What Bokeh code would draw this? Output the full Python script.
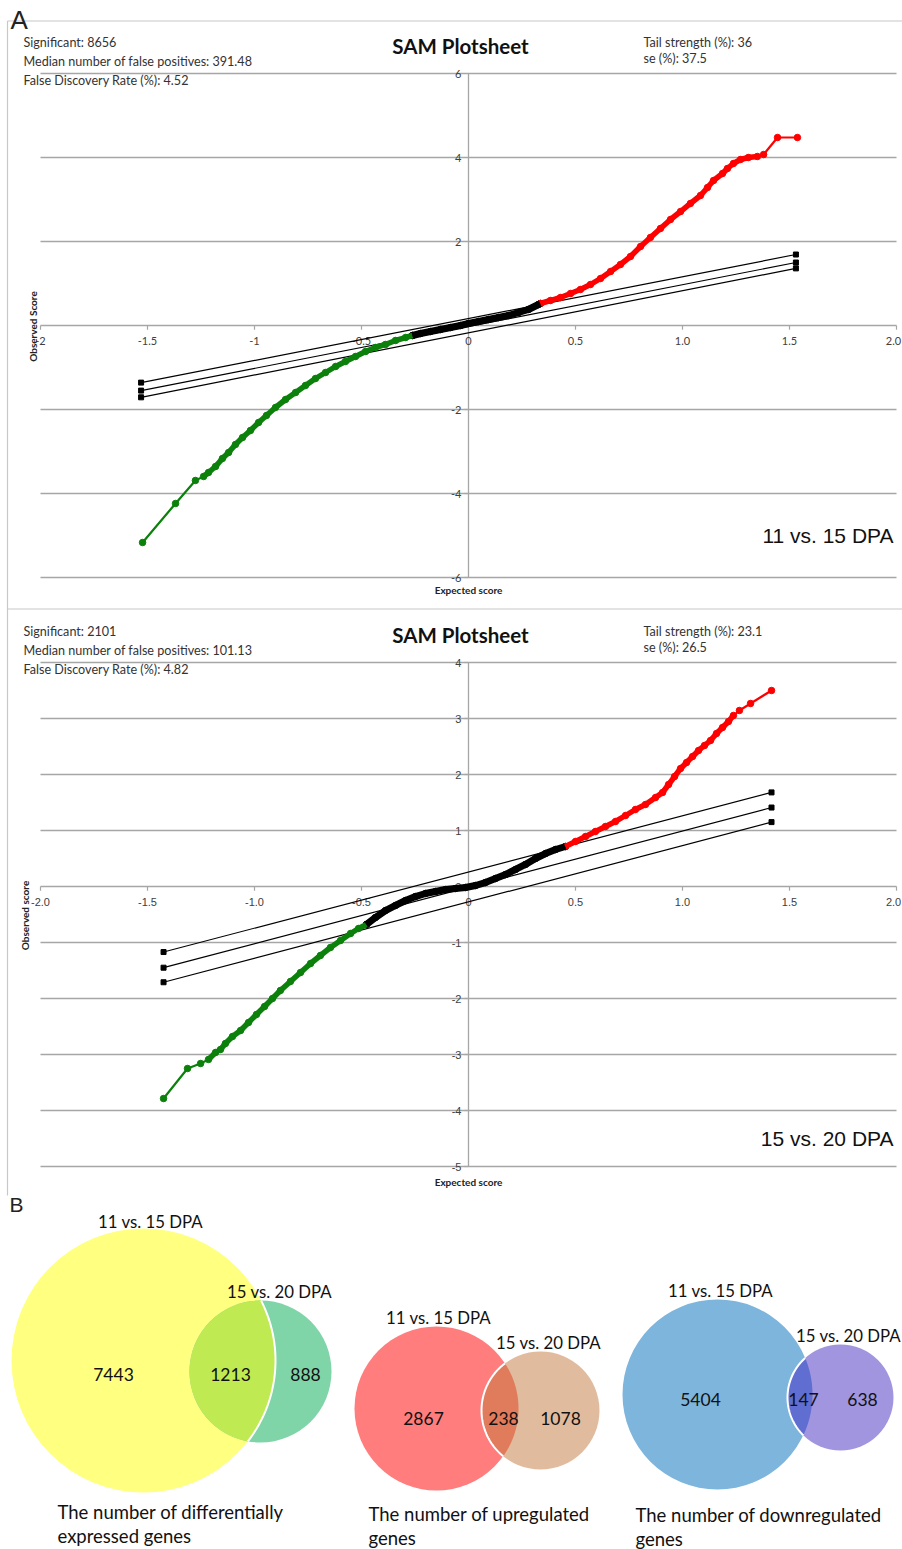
import math
import numpy as np
from bokeh.plotting import figure
from bokeh.models import Range1d
from bokeh.embed import file_html
from bokeh.resources import INLINE
from bokeh.core.properties import value

# ---------------- DATA ----------------
# Panel A, top: 11 vs. 15 DPA  (expected score, observed score)
p1_green_x = [-1.523, -1.369, -1.276, -1.238, -1.215, -1.182, -1.150, -1.121, -1.089, -1.056,
              -1.019, -0.981, -0.944, -0.902, -0.855, -0.808, -0.762, -0.715, -0.668, -0.621,
              -0.575, -0.528, -0.481, -0.435, -0.388, -0.341, -0.294, -0.262]
p1_green_y = [-5.167, -4.238, -3.690, -3.595, -3.500, -3.357, -3.167, -3.024, -2.833, -2.667,
              -2.500, -2.310, -2.143, -1.952, -1.762, -1.595, -1.429, -1.262, -1.119, -0.976,
              -0.857, -0.738, -0.619, -0.524, -0.452, -0.357, -0.286, -0.238]
p1_black_x = [-0.262, -0.224, -0.178, -0.131, -0.084, -0.037, 0.0, 0.047, 0.093, 0.140,
              0.187, 0.234, 0.280, 0.327, 0.336]
p1_black_y = [-0.238, -0.190, -0.143, -0.095, -0.048, 0.0, 0.048, 0.095, 0.143, 0.190,
              0.238, 0.310, 0.381, 0.500, 0.524]
p1_red_x = [0.336, 0.383, 0.430, 0.477, 0.523, 0.570, 0.617, 0.664, 0.710, 0.757,
            0.804, 0.850, 0.897, 0.944, 0.991, 1.037, 1.084, 1.117, 1.145, 1.187,
            1.210, 1.238, 1.271, 1.308, 1.350, 1.379, 1.444, 1.537]
p1_red_y = [0.524, 0.595, 0.667, 0.762, 0.857, 0.976, 1.119, 1.286, 1.452, 1.643,
            1.881, 2.095, 2.310, 2.524, 2.714, 2.905, 3.095, 3.286, 3.452, 3.619,
            3.738, 3.857, 3.952, 4.000, 4.024, 4.071, 4.476, 4.476]
p1_thr_x = [-1.53, 1.53]
p1_thr_upper = [-1.36, 1.69]
p1_thr_mid = [-1.55, 1.50]
p1_thr_lower = [-1.71, 1.36]

# Panel A, bottom: 15 vs. 20 DPA
p2_green_x = [-1.425, -1.313, -1.252, -1.215, -1.182, -1.159, -1.136, -1.103, -1.065, -1.028,
              -0.991, -0.953, -0.916, -0.879, -0.832, -0.785, -0.738, -0.692, -0.645, -0.598,
              -0.551, -0.514, -0.477]
p2_green_y = [-3.786, -3.250, -3.161, -3.089, -2.964, -2.911, -2.804, -2.679, -2.571, -2.429,
              -2.286, -2.143, -2.000, -1.857, -1.696, -1.536, -1.375, -1.232, -1.089, -0.964,
              -0.839, -0.750, -0.679]
p2_black_x = [-0.477, -0.435, -0.388, -0.341, -0.294, -0.248, -0.201, -0.154, -0.107, -0.061,
              -0.014, 0.033, 0.079, 0.126, 0.173, 0.220, 0.266, 0.313, 0.360, 0.407, 0.453]
p2_black_y = [-0.679, -0.554, -0.429, -0.339, -0.250, -0.179, -0.125, -0.089, -0.054, -0.036,
              -0.018, 0.018, 0.071, 0.143, 0.214, 0.304, 0.393, 0.500, 0.589, 0.661, 0.714]
p2_red_x = [0.453, 0.500, 0.547, 0.593, 0.640, 0.687, 0.734, 0.780, 0.827, 0.874,
            0.907, 0.935, 0.963, 0.991, 1.019, 1.047, 1.075, 1.103, 1.131, 1.159,
            1.187, 1.215, 1.238, 1.266, 1.318, 1.416]
p2_red_y = [0.714, 0.804, 0.893, 0.982, 1.071, 1.161, 1.268, 1.375, 1.464, 1.589,
            1.679, 1.821, 1.964, 2.107, 2.214, 2.321, 2.429, 2.518, 2.607, 2.732,
            2.839, 2.946, 3.054, 3.143, 3.268, 3.500]
p2_thr_x = [-1.425, 1.416]
p2_thr_upper = [-1.17, 1.68]
p2_thr_mid = [-1.45, 1.41]
p2_thr_lower = [-1.71, 1.15]

x_ticks = [-2.0, -1.5, -1.0, -0.5, 0.0, 0.5, 1.0, 1.5, 2.0]
p1_x_labels = ["-2", "-1.5", "-1", "-0.5", "0", "0.5", "1.0", "1.5", "2.0"]
p2_x_labels = ["-2.0", "-1.5", "-1.0", "-0.5", "0", "0.5", "1.0", "1.5", "2.0"]
p1_y_ticks = [6, 4, 2, -2, -4, -6]
p1_y_labels = ["6", "4", "2", "-2", "-4", "-6"]
p2_y_ticks = [4, 3, 2, 1, 0, -1, -2, -3, -4, -5]
p2_y_labels = ["4", "3", "2", "1", "0", "-1", "-2", "-3", "-4", "-5"]

p1_stats_left = ["Significant: 8656", "Median number of false positives: 391.48", "False Discovery Rate (%): 4.52"]
p1_stats_right = ["Tail strength (%): 36", "se (%): 37.5"]
p2_stats_left = ["Significant: 2101", "Median number of false positives: 101.13", "False Discovery Rate (%): 4.82"]
p2_stats_right = ["Tail strength (%): 23.1", "se (%): 26.5"]

# Panel B: Venn counts [only first, overlap, only second]
venn_counts = [[7443, 1213, 888], [2867, 238, 1078], [5404, 147, 638]]
venn_set_labels = ["11 vs. 15 DPA", "15 vs. 20 DPA"]
venn_captions = [["The number of differentially", "expressed genes"],
                 ["The number of upregulated", "genes"],
                 ["The number of downregulated", "genes"]]

# ---------------- LAYOUT (pixels) ----------------
W, H = 902, 1549
EX0, EXS = 468.0, 214.0          # expected score 0 position / px per unit
P1Y0, P1S = 325.0, 42.0
P2Y0, P2S = 886.0, 56.0

FONT = value("Lato")
NARROW = value("'Liberation Sans Narrow', 'Liberation Sans', sans-serif")
GRID = "#a6a6a6"

p = figure(width=W, height=H, x_range=Range1d(0, W), y_range=Range1d(H, 0),
           output_backend="svg", toolbar_location=None, min_border=0,
           x_axis_type=None, y_axis_type=None)
p.grid.visible = False
p.outline_line_color = None
p.background_fill_color = "white"
p.border_fill_color = "white"
p.extra_x_ranges = {"ex": Range1d(start=(0 - EX0) / EXS, end=(W - EX0) / EXS)}
p.extra_y_ranges = {"o1": Range1d(start=(P1Y0 - H) / P1S, end=P1Y0 / P1S),
                    "o2": Range1d(start=(P2Y0 - H) / P2S, end=P2Y0 / P2S)}

# panel frames
p.segment(x0=[7, 7, 7, 7], y0=[20.5, 608.5, 20.5, 608.5], x1=[902, 902, 7, 7], y1=[20.5, 608.5, 608.5, 1195],
          line_color="#c8c8c8", line_width=1.2)

p.text(x=[10], y=[4], text=["A"], text_font=value("Liberation Sans"), text_font_size="26px",
       text_baseline="top", text_align="left", text_color="#222222")
p.text(x=[9], y=[1192], text=["B"], text_font=value("Liberation Sans"), text_font_size="21px",
       text_baseline="top", text_align="left", text_color="#222222")


def sam_plot(yr, grid_vals, ymin, ymax, xlabels, ylabels, yticks, tick_len, lab_off, lab_font,
             green, black, red, thr_x, thr, stats_l, stats_r, top, ylab, ylab_x, xlab_y, corner, corner_y):
    kw = dict(x_range_name="ex", y_range_name=yr)
    n = len(grid_vals)
    p.segment(x0=[-2.0] * n, x1=[2.0] * n, y0=grid_vals, y1=grid_vals, line_color=GRID, line_width=1.3, **kw)
    # axes
    p.segment(x0=[-2.0], x1=[2.0], y0=[0], y1=[0], line_color=GRID, line_width=1.3, **kw)
    p.segment(x0=[0], x1=[0], y0=[ymin], y1=[ymax], line_color=GRID, line_width=1.3, **kw)
    p.segment(x0=x_ticks, x1=x_ticks, y0=[0] * len(x_ticks), y1=[-tick_len] * len(x_ticks),
              line_color=GRID, line_width=1.2, **kw)
    p.segment(x0=[-0.02] * len(yticks), x1=[0] * len(yticks), y0=yticks, y1=yticks,
              line_color=GRID, line_width=1.2, **kw)
    # x tick labels; the last one is right-aligned at the panel edge so it stays inside
    p.text(x=x_ticks[:-1], y=[-lab_off] * (len(x_ticks) - 1), text=xlabels[:-1], text_font=lab_font,
           text_font_size="11px", text_align="center", text_baseline="middle", text_color="#404040", **kw)
    p.text(x=[x_ticks[-1] + 0.022], y=[-lab_off], text=[xlabels[-1]], text_font=lab_font,
           text_font_size="11px", text_align="right", text_baseline="middle", text_color="#404040", **kw)
    p.text(x=[-0.033] * len(yticks), y=yticks, text=ylabels, text_font=lab_font, text_font_size="11px",
           text_align="right", text_baseline="middle", text_color="#404040", **kw)
    # threshold lines
    for ty in thr:
        p.line(thr_x, ty, line_color="black", line_width=1.2, **kw)
        p.scatter(thr_x, ty, marker="square", size=5, color="black", **kw)
    # score curve
    for (xs, ys, col) in (green, black, red):
        p.line(xs, ys, line_color=col, line_width=2.2, **kw)
        p.scatter(xs, ys, marker="circle", size=6.5, color=col, **kw)
    gx, gy, gc = green
    p.line(gx[3:], gy[3:], line_color=gc, line_width=5.5, **kw)
    bx, by, bc = black
    p.line(bx, by, line_color=bc, line_width=7, **kw)
    rx, ry, rc = red
    p.line(rx[:-3], ry[:-3], line_color=rc, line_width=5.5, **kw)

    # header texts (pixel coords)
    p.text(x=[23] * 3, y=[top, top + 19, top + 38], text=stats_l, text_font=FONT, text_font_size="12.6px",
           text_align="left", text_baseline="middle", text_color="#333333")
    p.text(x=[643] * 2, y=[top, top + 16], text=stats_r, text_font=FONT, text_font_size="12.6px",
           text_align="left", text_baseline="middle", text_color="#333333")
    p.text(x=[460], y=[top + 3], text=["SAM Plotsheet"], text_font=FONT, text_font_size="20.5px",
           text_font_style="bold", text_align="center", text_baseline="middle", text_color="#111111")
    p.text(x=[ylab_x], y=[ylab[1]], text=[ylab[0]], angle=math.pi / 2, text_font=FONT, text_font_size="10px",
           text_font_style="bold", text_align="center", text_baseline="middle", text_color="#222222")
    p.text(x=[468], y=[xlab_y], text=["Expected score"], text_font=FONT, text_font_size="10px",
           text_font_style="bold", text_align="center", text_baseline="middle", text_color="#222222")
    p.text(x=[893], y=[corner_y], text=[corner], text_font=NARROW, text_font_size="21px",
           text_align="right", text_baseline="middle", text_color="#111111")


sam_plot("o1", [6, 4, 2, -2, -4, -6], -6, 6, p1_x_labels, p1_y_labels, p1_y_ticks, 0.1, 0.36, FONT,
         (p1_green_x, p1_green_y, "#0b800b"), (p1_black_x, p1_black_y, "black"), (p1_red_x, p1_red_y, "#ff0000"),
         p1_thr_x, [p1_thr_upper, p1_thr_mid, p1_thr_lower], p1_stats_left, p1_stats_right, 42,
         ("Observed Score", 326), 32, 589, "11 vs. 15 DPA", 535)
sam_plot("o2", [4, 3, 2, 1, -1, -2, -3, -4, -5], -5, 4, p2_x_labels, p2_y_labels, p2_y_ticks, 0.075, 0.27, NARROW,
         (p2_green_x, p2_green_y, "#0b800b"), (p2_black_x, p2_black_y, "black"), (p2_red_x, p2_red_y, "#ff0000"),
         p2_thr_x, [p2_thr_upper, p2_thr_mid, p2_thr_lower], p2_stats_left, p2_stats_right, 631,
         ("Observed score", 915), 24, 1181, "15 vs. 20 DPA", 1138)

# ---------------- Venn diagrams ----------------
# circle geometry (pixels): (ax, ay, ar, bx, by, br)
venn_geom = [(143, 1360, 132, 260, 1371, 71),
             (436, 1408, 82, 540, 1410, 59),
             (717, 1394, 95, 840, 1397, 53)]
venn_colors = [("#ffff80", "#7fd4a8", "#bfea52"),
               ("#ff7d7d", "#e1bb9d", "#e07b5c"),
               ("#7eb5dc", "#a195e0", "#5f6ed0")]
white_arc_on = ["A", "B", "B"]
lab1_pos = [(150, 1221), (438, 1317), (720, 1290)]
lab2_pos = [(279, 1291), (548, 1342), (848, 1335)]
count_pos = [[(113, 1374), (230, 1374), (305, 1374)],
             [(423, 1418), (503, 1418), (560, 1418)],
             [(700, 1399), (803, 1399), (862, 1399)]]
caption_pos = [(57, 1511), (368, 1513), (635, 1514)]


def lens(ax, ay, ar, bx, by, br, n=80):
    d = math.hypot(bx - ax, by - ay)
    phi = math.atan2(by - ay, bx - ax)
    aa = math.acos((d * d + ar * ar - br * br) / (2 * d * ar))
    ab = math.acos((d * d + br * br - ar * ar) / (2 * d * br))
    ta = np.linspace(phi - aa, phi + aa, n)
    tb = np.linspace(phi + math.pi - ab, phi + math.pi + ab, n)
    return (ax + ar * np.cos(ta), ay + ar * np.sin(ta)), (bx + br * np.cos(tb), by + br * np.sin(tb))


for i, (ax, ay, ar, bx, by, br) in enumerate(venn_geom):
    ca, cb, cab = venn_colors[i]
    p.ellipse(x=[ax], y=[ay], width=[2 * ar], height=[2 * ar], fill_color=ca, line_color=None)
    p.ellipse(x=[bx], y=[by], width=[2 * br], height=[2 * br], fill_color=cb, line_color=None)
    arcA, arcB = lens(ax, ay, ar, bx, by, br)
    p.patch(list(arcA[0]) + list(arcB[0]), list(arcA[1]) + list(arcB[1]), fill_color=cab, line_color=None)
    arc = arcA if white_arc_on[i] == "A" else arcB
    p.line(list(arc[0]), list(arc[1]), line_color="white", line_width=2)
    p.text(x=[lab1_pos[i][0], lab2_pos[i][0]], y=[lab1_pos[i][1], lab2_pos[i][1]], text=venn_set_labels,
           text_font=FONT, text_font_size="16.8px", text_align="center", text_baseline="middle",
           text_color="#111111")
    p.text(x=[c[0] for c in count_pos[i]], y=[c[1] for c in count_pos[i]], text=[str(v) for v in venn_counts[i]],
           text_font=FONT, text_font_size="17.5px", text_align="center", text_baseline="middle",
           text_color="#111111")
    cx, cy = caption_pos[i]
    p.text(x=[cx, cx], y=[cy, cy + 24], text=venn_captions[i], text_font=FONT, text_font_size="18.5px",
           text_align="left", text_baseline="middle", text_color="#111111")

open("out.html", "w").write(file_html(p, INLINE))
